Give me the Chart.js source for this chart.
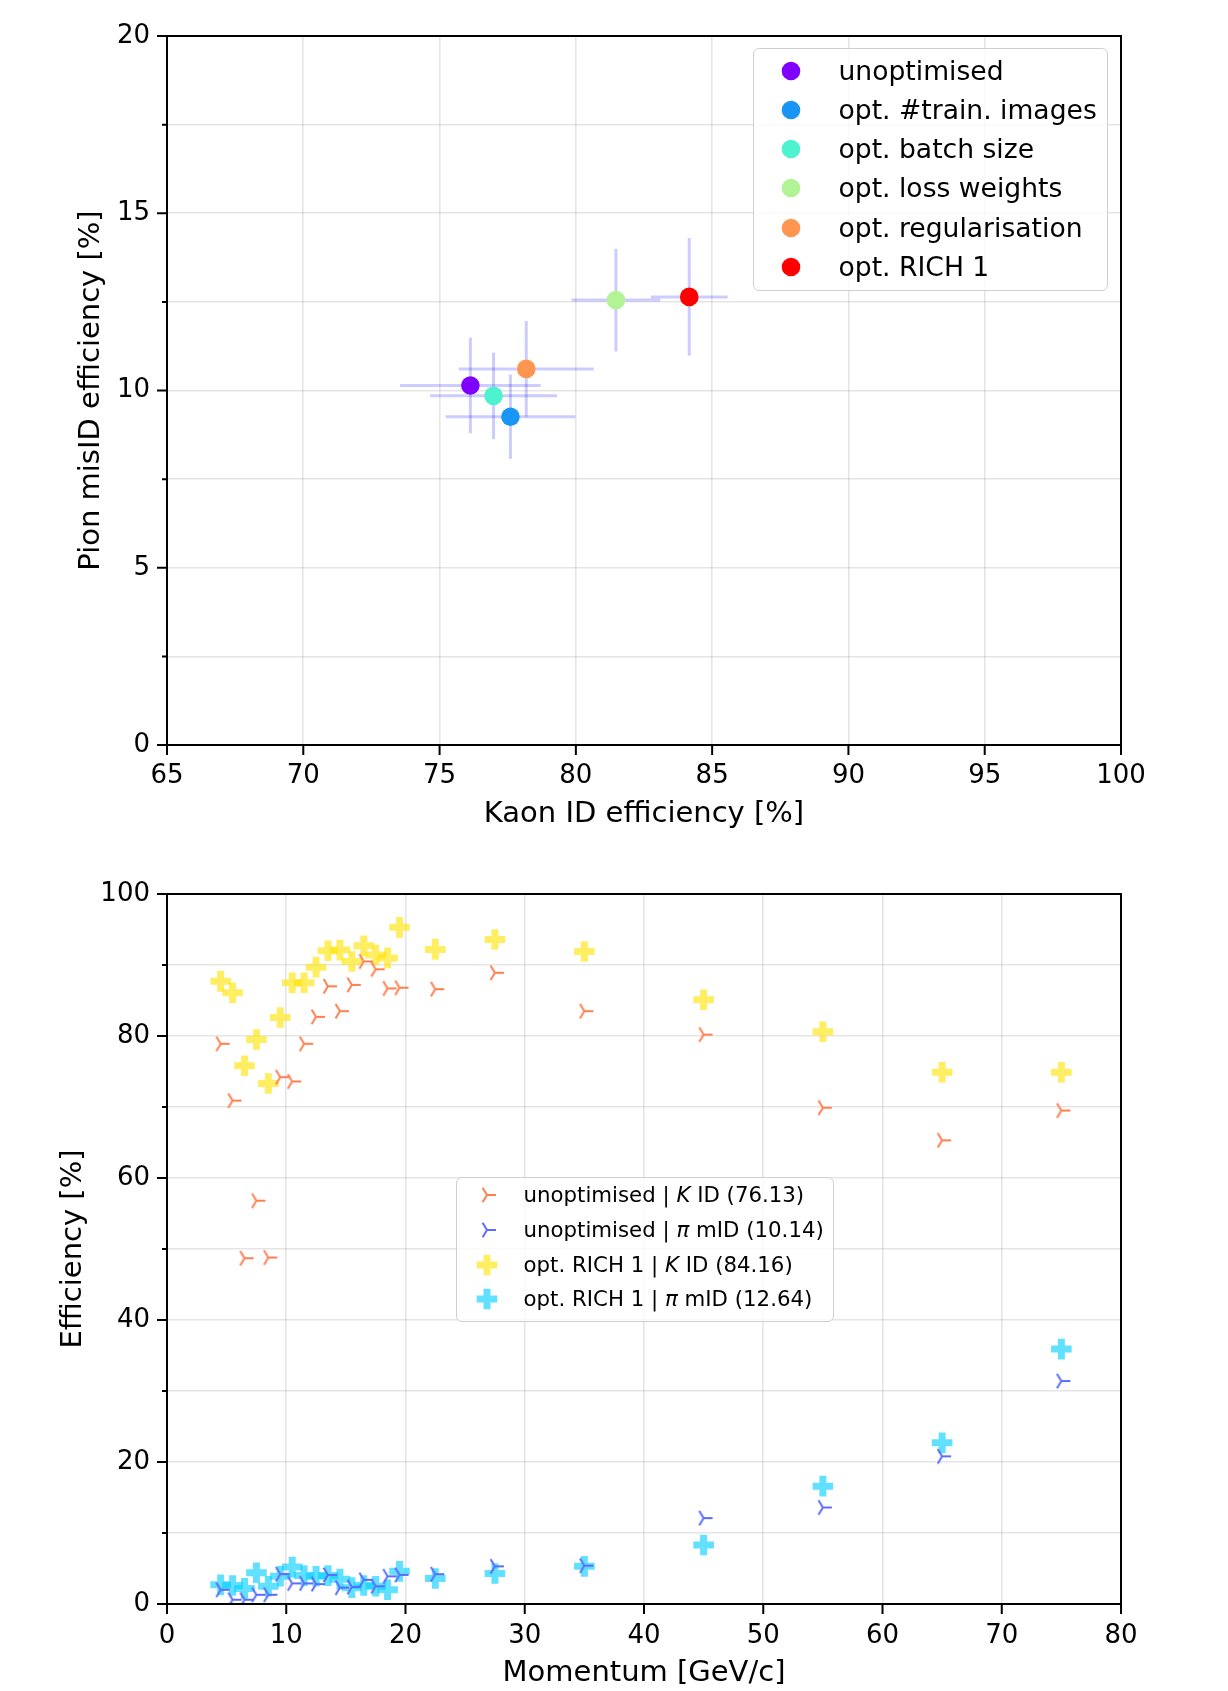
<!DOCTYPE html>
<html lang="en">
<head>
<meta charset="UTF-8">
<title>Kaon ID / pion misID efficiency</title>
<script src="https://cdn.jsdelivr.net/npm/chart.js"></script>
<style>
  body {
    margin: 0;
    width: 1228px;
    height: 1691px;
    position: relative;
    overflow: hidden;
    background: #fff;
    color: #000;
    font-family: 'DejaVu Sans', sans-serif;
  }
  canvas { position: absolute; left: 0; }
  #top-chart { top: 0; }
  #bottom-chart { top: 845px; }
  .legend {
    position: absolute;
    box-sizing: border-box;
    border: 1.5px solid #cfcfcf;
    border-radius: 6px;
    background: rgba(255, 255, 255, 0.8);
  }
  .legend .row { position: absolute; left: 0; right: 0; white-space: nowrap; }
  .legend .row svg { position: absolute; top: 50%; transform: translate(-50%, -50%); }
  .legend .row span { position: absolute; top: 50%; transform: translateY(-52%); }
  #legend-top { left: 753px; top: 48px; width: 355px; height: 243px; font-size: 26.6px; }
  #legend-bottom { left: 456px; top: 1177px; width: 378px; height: 145px; font-size: 21.3px; }
</style>
</head>
<body>
<canvas id="top-chart" width="1228" height="845"></canvas>
<canvas id="bottom-chart" width="1228" height="846"></canvas>
<div class="legend" id="legend-top"></div>
<div class="legend" id="legend-bottom"></div>

<script>
// ---- top plot: working points of the different setups ----
const setups = ['unoptimised', 'opt. #train. images', 'opt. batch size',
                'opt. loss weights', 'opt. regularisation', 'opt. RICH 1'];
const kaonEff   = [76.13, 77.60, 76.98, 81.47, 78.18, 84.16];
const pionMisId = [10.14, 9.26, 9.85, 12.55, 10.61, 12.64];
const kaonErr   = [2.58, 2.38, 2.33, 1.63, 2.48, 1.41];
const pionErr   = [1.35, 1.19, 1.22, 1.45, 1.35, 1.66];

// ---- bottom plot: efficiency vs momentum ----
const momentum = [4.5, 5.5, 6.5, 7.5, 8.5, 9.5, 10.5, 11.5, 12.5, 13.5, 14.5, 15.5,
                  16.5, 17.5, 18.5, 19.5, 22.5, 27.5, 35, 45, 55, 65, 75];
const unoptKaonId = [78.9, 70.9, 48.7, 56.8, 48.8, 74.2, 73.6, 78.9, 82.7, 87.0, 83.5, 87.2,
                     90.5, 89.4, 86.7, 86.8, 86.6, 88.9, 83.5, 80.2, 69.9, 65.3, 69.5];
const unoptPionMisId = [2.0, 0.6, 0.6, 1.3, 1.3, 4.2, 2.9, 2.9, 2.8, 4.1, 2.3, 2.4,
                        3.4, 2.5, 3.9, 4.1, 4.2, 5.3, 5.4, 12.1, 13.6, 20.8, 31.4];
const richKaonId = [87.7, 86.1, 75.8, 79.5, 73.3, 82.6, 87.5, 87.5, 89.7, 92.0, 92.1, 90.5,
                    92.7, 91.4, 91.0, 95.3, 92.2, 93.6, 91.9, 85.1, 80.6, 74.9, 74.9];
const richPionMisId = [2.7, 2.6, 2.2, 4.4, 2.5, 3.9, 5.2, 4.0, 3.9, 4.0, 3.5, 2.3,
                       2.6, 2.5, 2.0, 4.6, 3.6, 4.3, 5.3, 8.3, 16.6, 22.7, 35.9];

const topTicksX = { min: 65, max: 100, step: 5 };
const topTicksY = { min: 0, max: 20, step: 2.5, label: 5 };
const botTicksX = { min: 0, max: 80, step: 10 };
const botTicksY = { min: 0, max: 100, step: 10, label: 20 };

// colours (rainbow colormap like matplotlib)
const setupColours = ['#8000ff', '#1996f3', '#4df3ce', '#b2f396', '#ff964f', '#ff0000'];
const orangeTri = '#ff7f50';
const blueTri = '#5a6cff';
const yellowPlus = 'rgba(255, 228, 0, 0.62)';
const cyanPlus = 'rgba(0, 206, 255, 0.62)';

Chart.defaults.font.family = "'DejaVu Sans', sans-serif";
Chart.defaults.color = '#000';

// matplotlib "tri_right" marker as an image
function triRight(colour) {
  const c = document.createElement('canvas');
  c.width = 22; c.height = 22;
  const g = c.getContext('2d');
  g.strokeStyle = colour;
  g.lineWidth = 2;
  g.beginPath();
  g.moveTo(11, 11); g.lineTo(20, 11);
  g.moveTo(11, 11); g.lineTo(6.6, 3.8);
  g.moveTo(11, 11); g.lineTo(6.6, 18.2);
  g.stroke();
  return c;
}

// light blue error bars behind the dots
const errorBars = {
  id: 'errorBars',
  beforeDatasetsDraw(chart) {
    const { ctx, chartArea: a, scales: { x, y } } = chart;
    ctx.save();
    ctx.beginPath();
    ctx.rect(a.left, a.top, a.width, a.height);
    ctx.clip();
    ctx.strokeStyle = 'rgba(0, 0, 255, 0.2)';
    ctx.lineWidth = 3;
    kaonEff.forEach((k, i) => {
      const px = x.getPixelForValue(k);
      const py = y.getPixelForValue(pionMisId[i]);
      ctx.beginPath();
      ctx.moveTo(x.getPixelForValue(k - kaonErr[i]), py);
      ctx.lineTo(x.getPixelForValue(k + kaonErr[i]), py);
      ctx.stroke();
      ctx.beginPath();
      ctx.moveTo(px, y.getPixelForValue(pionMisId[i] - pionErr[i]));
      ctx.lineTo(px, y.getPixelForValue(pionMisId[i] + pionErr[i]));
      ctx.stroke();
    });
    ctx.restore();
  }
};

// black box round the axes + major/minor tick marks
const frame = {
  id: 'frame',
  afterDatasetsDraw(chart) {
    const { ctx, chartArea: a, scales: { x, y } } = chart;
    ctx.save();
    ctx.strokeStyle = '#000';
    ctx.lineWidth = 2;
    ctx.beginPath();
    x.ticks.forEach(t => {
      const px = x.getPixelForValue(t.value);
      ctx.moveTo(px, a.bottom);
      ctx.lineTo(px, a.bottom + (t.label === '' ? 5 : 10));
    });
    y.ticks.forEach(t => {
      const py = y.getPixelForValue(t.value);
      ctx.moveTo(a.left, py);
      ctx.lineTo(a.left - (t.label === '' ? 5 : 10), py);
    });
    ctx.stroke();
    ctx.strokeRect(a.left, a.top, a.width, a.height);
    ctx.restore();
  }
};

function axis(t, title, titlePad, tickPad, fit) {
  return {
    type: 'linear',
    min: t.min,
    max: t.max,
    afterFit: fit,
    border: { display: false },
    grid: { color: 'rgba(0,0,0,0.1)', lineWidth: 1.6, tickLength: 10, tickColor: 'rgba(0,0,0,0)' },
    ticks: {
      stepSize: t.step,
      autoSkip: false,
      maxRotation: 0,
      padding: tickPad,
      font: { size: 26 },
      callback: v => (t.label && v % t.label !== 0) ? '' : v
    },
    title: { display: true, text: title, font: { size: 29 }, padding: titlePad }
  };
}

// ---- top chart ----
new Chart(document.getElementById('top-chart'), {
  type: 'scatter',
  data: {
    datasets: setups.map((name, i) => ({
      label: name,
      data: [{ x: kaonEff[i], y: pionMisId[i] }],
      backgroundColor: setupColours[i],
      borderWidth: 0,
      pointRadius: 9.3,
      pointHoverRadius: 9.3
    }))
  },
  options: {
    responsive: false,
    animation: false,
    events: [],
    devicePixelRatio: 1,
    layout: { padding: { left: 0, right: 107, top: 36, bottom: 0 } },
    plugins: { legend: { display: false }, tooltip: { enabled: false } },
    scales: {
      x: axis(topTicksX, 'Kaon ID efficiency [%]', { top: 0, bottom: 13.4 }, 6, s => { s.height = 100; }),
      y: axis(topTicksY, 'Pion misID efficiency [%]', { top: 74, bottom: 0 }, 7, s => { s.width = 167; })
    }
  },
  plugins: [errorBars, frame]
});

// ---- bottom chart ----
const toPoints = ys => momentum.map((p, i) => ({ x: p, y: ys[i] }));
const plusStyle = colour => ({
  pointStyle: 'cross', borderColor: colour, borderWidth: 7, pointRadius: 10.3, pointHoverRadius: 10.3
});
const triStyle = colour => ({
  pointStyle: triRight(colour), borderWidth: 0, pointRadius: 9, pointHoverRadius: 9
});

new Chart(document.getElementById('bottom-chart'), {
  type: 'scatter',
  data: {
    datasets: [
      Object.assign({ data: toPoints(unoptKaonId) }, triStyle(orangeTri)),
      Object.assign({ data: toPoints(unoptPionMisId) }, triStyle(blueTri)),
      Object.assign({ data: toPoints(richKaonId) }, plusStyle(yellowPlus)),
      Object.assign({ data: toPoints(richPionMisId) }, plusStyle(cyanPlus))
    ]
  },
  options: {
    responsive: false,
    animation: false,
    events: [],
    devicePixelRatio: 1,
    layout: { padding: { left: 0, right: 107, top: 49, bottom: 0 } },
    plugins: { legend: { display: false }, tooltip: { enabled: false } },
    scales: {
      x: axis(botTicksX, 'Momentum [GeV/c]', { top: 0, bottom: 0.5 }, 7, s => { s.height = 87; }),
      y: axis(botTicksY, 'Efficiency [%]', { top: 56, bottom: 0 }, 7, s => { s.width = 167; })
    }
  },
  plugins: [frame]
});

// ---- legends ----
const dot = c => `<svg width="20" height="20"><circle cx="10" cy="10" r="9.3" fill="${c}"/></svg>`;
const plus = c => `<svg width="22" height="22"><path d="M7.5 0.7H14.5V7.5H21.3V14.5H14.5V21.3H7.5V14.5H0.7V7.5H7.5Z" fill="${c}"/></svg>`;
const tri = c => `<svg width="22" height="22"><path d="M11 11H20M11 11L6.6 3.8M11 11L6.6 18.2" stroke="${c}" stroke-width="2" fill="none"/></svg>`;

function buildLegend(el, items, first, step, markerX, textX) {
  items.forEach((it, i) => {
    const row = document.createElement('div');
    row.className = 'row';
    row.style.top = (first + i * step - step / 2) + 'px';
    row.style.height = step + 'px';
    row.innerHTML = it.marker.replace('<svg', `<svg style="left:${markerX}px"`) +
      `<span style="left:${textX}px">${it.text}</span>`;
    el.appendChild(row);
  });
}

buildLegend(document.getElementById('legend-top'),
  setups.map((s, i) => ({ marker: dot(setupColours[i]), text: s })),
  22.2, 39.1, 36.5, 84.5);

buildLegend(document.getElementById('legend-bottom'), [
  { marker: tri(orangeTri), text: `unoptimised | <i>K</i> ID (${kaonEff[0].toFixed(2)})` },
  { marker: tri(blueTri), text: `unoptimised | <i>π</i> mID (${pionMisId[0].toFixed(2)})` },
  { marker: plus(yellowPlus), text: `opt. RICH 1 | <i>K</i> ID (${kaonEff[5].toFixed(2)})` },
  { marker: plus(cyanPlus), text: `opt. RICH 1 | <i>π</i> mID (${pionMisId[5].toFixed(2)})` }
], 17, 34.8, 29.5, 66.5);
</script>
</body>
</html>
